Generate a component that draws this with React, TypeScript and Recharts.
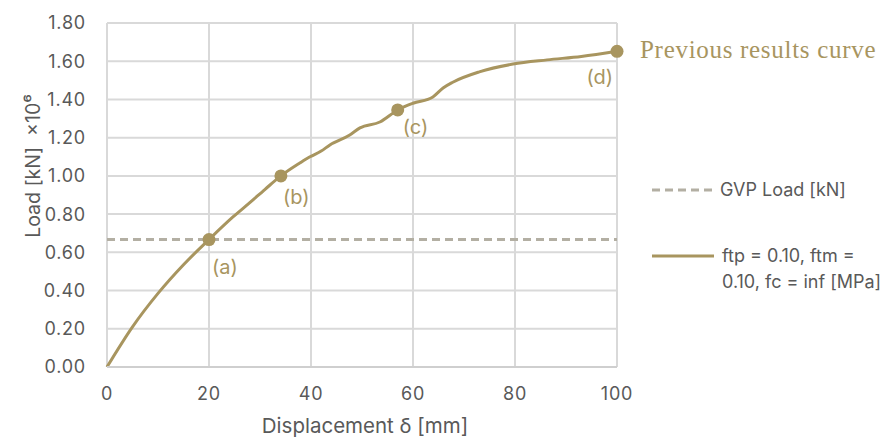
import { ComposedChart, Line, XAxis, YAxis, CartesianGrid, ReferenceLine, ReferenceDot } from "recharts"

// curve
const displacement = [0, 5, 10, 15, 20, 24.7, 28, 31, 34.1, 37.8, 39.8, 42, 43.7, 47.6, 49.6, 53.5, 57, 60, 63.9, 65.9, 67.8, 73, 79.6, 86.3, 93, 100]
const load = [0, 0.21, 0.385, 0.535, 0.667, 0.785, 0.86, 0.93, 1.0, 1.067, 1.1, 1.13, 1.162, 1.214, 1.251, 1.282, 1.345, 1.38, 1.413, 1.46, 1.49, 1.544, 1.585, 1.607, 1.625, 1.652]

const gvpLoad = 0.667

const markerNames = ["(a)", "(b)", "(c)", "(d)"]
const markerDisplacement = [20, 34.1, 57, 100]
const markerLoad = [0.667, 1.0, 1.345, 1.652]

const xTicks = [0, 20, 40, 60, 80, 100]
const yTicks = [0, 0.2, 0.4, 0.6, 0.8, 1.0, 1.2, 1.4, 1.6, 1.8]

const curveName = "ftp = 0.10, ftm = 0.10, fc = inf [MPa]"
const gvpName = "GVP Load [kN]"
const noteText = "Previous results curve"

const curveData = displacement.map((d, i) => ({ d, load: load[i] }))

const GOLD = "#a8955f"
const DASH = "#b3afa3"
const TEXT = "#595959"
const GRID = "#d9d9d9"
const FONT = "Inter, 'Noto Sans', sans-serif"

// label placement next to each marker (dx, dy from dot centre)
const labelDx = [3, 2, 5, -4]
const labelDy = [27, 21, 17, 26]
const labelAnchor = ["start", "start", "start", "end"]

const LegendBox = () => (
  <div
    style={{
      position: "absolute",
      left: 652,
      top: 177,
      fontFamily: FONT,
      fontSize: 18,
      color: TEXT,
      lineHeight: "26px",
    }}
  >
    <div style={{ display: "flex", alignItems: "center" }}>
      <svg width={68} height={10}>
        <line x1={0} y1={5} x2={62} y2={5} stroke={DASH} strokeWidth={3} strokeDasharray="8 5" />
      </svg>
      <span style={{ whiteSpace: "nowrap" }}>{gvpName}</span>
    </div>
    <div style={{ display: "flex", alignItems: "flex-start", marginTop: 40 }}>
      <svg width={70} height={26} style={{ flexShrink: 0 }}>
        <line x1={0} y1={13} x2={62} y2={13} stroke={GOLD} strokeWidth={3} />
      </svg>
      <span style={{ width: 172 }}>{curveName}</span>
    </div>
  </div>
)

export default function App() {
  return (
    <div style={{ position: "absolute", left: 0, top: 0, width: 894, height: 442, background: "#fff" }}>
      <ComposedChart
        width={894}
        height={442}
        data={curveData}
        margin={{ top: 23, right: 277, left: 0, bottom: 0 }}
      >
        <CartesianGrid stroke={GRID} strokeWidth={2} />
        <XAxis
          dataKey="d"
          type="number"
          domain={[0, 100]}
          ticks={xTicks}
          height={75}
          tickLine={false}
          tickSize={0}
          tickMargin={20}
          axisLine={{ stroke: "#cfcfcf", strokeWidth: 2 }}
          tick={{ fill: TEXT, fontSize: 18, fontFamily: FONT, letterSpacing: 0.8 }}
          label={{
            content: (p: any) => (
              <text
                x={p.viewBox.x + p.viewBox.width / 2 + 3}
                y={p.viewBox.y + 58}
                textAnchor="middle"
                dominantBaseline="central"
                fill={TEXT}
                fontSize={20.5}
                fontFamily={FONT}
              >
                Displacement δ [mm]
              </text>
            ),
          }}
        />
        <YAxis
          type="number"
          domain={[0, 1.8]}
          ticks={yTicks}
          width={107}
          tickLine={false}
          axisLine={false}
          tickSize={0}
          tickMargin={21}
          tickFormatter={(v: number) => v.toFixed(2)}
          tick={{ fill: TEXT, fontSize: 18, fontFamily: FONT, letterSpacing: 0.8 }}
          label={{
            content: () => (
              <text
                x={33}
                y={166}
                transform="rotate(-90 33 166)"
                textAnchor="middle"
                dominantBaseline="central"
                fill={TEXT}
                fontSize={19.5}
                fontFamily={FONT}
                style={{ whiteSpace: "pre" }}
              >
                {"Load [kN]  ×10⁶"}
              </text>
            ),
          }}
        />
        <ReferenceLine y={gvpLoad} stroke={DASH} strokeWidth={3} strokeDasharray="8 5" />
        <Line
          type="monotone"
          dataKey="load"
          stroke={GOLD}
          strokeWidth={3}
          dot={false}
          activeDot={false}
          isAnimationActive={false}
        />
        {markerNames.map((name, i) => (
          <ReferenceDot
            key={name}
            x={markerDisplacement[i]}
            y={markerLoad[i]}
            r={6.5}
            fill={GOLD}
            stroke="none"
            ifOverflow="visible"
            label={{
              content: (p: any) => {
                const cx = p.viewBox.x + p.viewBox.width / 2
                const cy = p.viewBox.y + p.viewBox.height / 2
                return (
                  <text
                    x={cx + labelDx[i]}
                    y={cy + labelDy[i]}
                    textAnchor={labelAnchor[i] as any}
                    dominantBaseline="central"
                    fill={GOLD}
                    fontSize={20}
                    fontFamily={FONT}
                  >
                    {name}
                  </text>
                )
              },
            }}
          />
        ))}
      </ComposedChart>
      <LegendBox />
      <div
        style={{
          position: "absolute",
          left: 640,
          top: 36,
          fontFamily: "'Liberation Serif', serif",
          fontSize: 25,
          color: GOLD,
          whiteSpace: "nowrap",
          letterSpacing: 0.7,
        }}
      >
        {noteText}
      </div>
    </div>
  )
}
